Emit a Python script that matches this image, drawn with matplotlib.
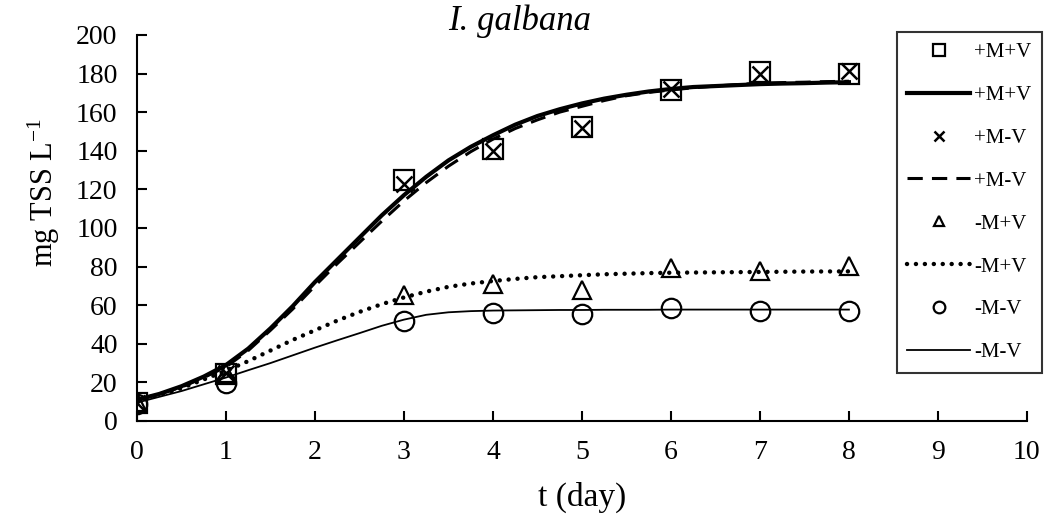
import matplotlib
matplotlib.use('Agg')
import matplotlib.pyplot as plt

# Font setup (Times-like)
plt.rcParams['font.family'] = ['Liberation Serif', 'DejaVu Serif']
plt.rcParams['mathtext.fontset'] = 'custom'
plt.rcParams['mathtext.rm'] = 'Liberation Serif'
plt.rcParams['mathtext.it'] = 'Liberation Serif:italic'

# Measured points
days = [0, 1, 3, 4, 5, 6, 7, 8]
pmpv = [9.5, 24.5, 125, 141, 152.5, 171.5, 181, 180]      # +M+V
pmmv = [9.5, 25, 123, 140, 152, 172, 179.5, 181.5]        # +M-V
mmpv = [10, 25, 65, 71, 68, 79.5, 77.5, 80.5]             # -M+V
mmmv = [9, 19.5, 52, 56, 55.5, 58.5, 57, 57]              # -M-V

# Fitted curves, read every quarter day (0 .. 8)
t_fit = [i / 4 for i in range(33)]
fit_pmpv = [11, 14, 18, 23, 29, 37.5, 48, 59.5, 72, 83.5, 95, 106.5, 117, 126.5, 135, 142,
            148, 153.5, 158, 161.5, 164.5, 167, 169, 170.7, 172, 173, 173.5, 174, 174.5,
            174.8, 175, 175.3, 175.5]
fit_pmmv = [11, 14, 17.5, 22.5, 28, 36.5, 47, 58, 70, 81.5, 92.5, 103.5, 114, 123.5, 132,
            139.5, 146, 151.5, 156, 160, 163, 166, 168.5, 170.2, 171.5, 172.6, 173.5, 174.3,
            175, 175.3, 175.5, 175.8, 176]
fit_mmpv = [10.5, 13.5, 17, 21.5, 26, 31, 36.5, 42, 47, 52, 56.5, 60.5, 64, 67, 69.5, 71.2,
            72.5, 73.6, 74.5, 75, 75.5, 76, 76.3, 76.6, 76.8, 76.9, 77, 77.1, 77.2, 77.3,
            77.4, 77.45, 77.5]
fit_mmmv = [9.5, 12.5, 15.5, 19, 22.5, 26.3, 30, 34, 38, 41.8, 45.5, 49.3, 52.5, 55, 56.3,
            56.9, 57.2, 57.3, 57.4, 57.5, 57.5, 57.6, 57.6, 57.6, 57.7, 57.7, 57.7, 57.7,
            57.7, 57.7, 57.7, 57.7, 57.7]

fig = plt.figure(figsize=(10.5, 5.21), dpi=100)
ax = fig.add_axes([0.1305, 0.192, 0.8475, 0.741])

ax.plot(days, pmpv, 's', ms=14, mfc='none', mec='black', mew=1.6, ls='none', label='+M+V')
ax.plot(t_fit, fit_pmpv, '-', color='black', lw=3.0, label='+M+V')
ax.plot(days, pmmv, 'x', ms=12, mec='black', mew=1.8, ls='none', label='+M-V')
ax.plot(t_fit, fit_pmmv, '--', color='black', lw=2.2, dashes=(5, 3), label='+M-V')
ax.plot(days, mmpv, '^', ms=13, mfc='none', mec='black', mew=1.6, ls='none', label='-M+V')
ax.plot(t_fit, fit_mmpv, ':', color='black', lw=3.2, dashes=(0.01, 2.0),
        dash_capstyle='round', label='-M+V')
ax.plot(days, mmmv, 'o', ms=14, mfc='none', mec='black', mew=1.6, ls='none', label='-M-V')
ax.plot(t_fit, fit_mmmv, '-', color='black', lw=1.3, label='-M-V')

ax.set_xlim(0, 10)
ax.set_ylim(0, 200)
ax.set_xticks(range(0, 11))
ax.set_yticks(range(0, 201, 20))
ax.tick_params(direction='in', length=7, width=1.5, labelsize=20)
ax.tick_params(axis='x', pad=14)
ax.tick_params(axis='y', pad=14)
for s in ['top', 'right']:
    ax.spines[s].set_visible(False)
for s in ['left', 'bottom']:
    ax.spines[s].set_linewidth(1.5)

ax.set_xlabel('t (day)', fontsize=24, labelpad=12)
ax.set_ylabel('mg TSS L$^{-1}$', fontsize=22)
ax.yaxis.set_label_coords(-0.084, 0.593)
fig.text(520 / 1050, 1 - 21 / 521, 'I. galbana', fontsize=25, style='italic',
         ha='center', va='center')

leg = ax.legend(loc='upper left', bbox_to_anchor=(897 / 1050, 1 - 32 / 521),
                bbox_transform=fig.transFigure, fontsize=15, frameon=True,
                fancybox=False, edgecolor='black', handlelength=3.0,
                labelspacing=1.12, markerscale=0.6, borderpad=0.5,
                handletextpad=0.2, borderaxespad=0)
leg.get_frame().set_linewidth(1.5)

fig.savefig('out.png', dpi=100)
